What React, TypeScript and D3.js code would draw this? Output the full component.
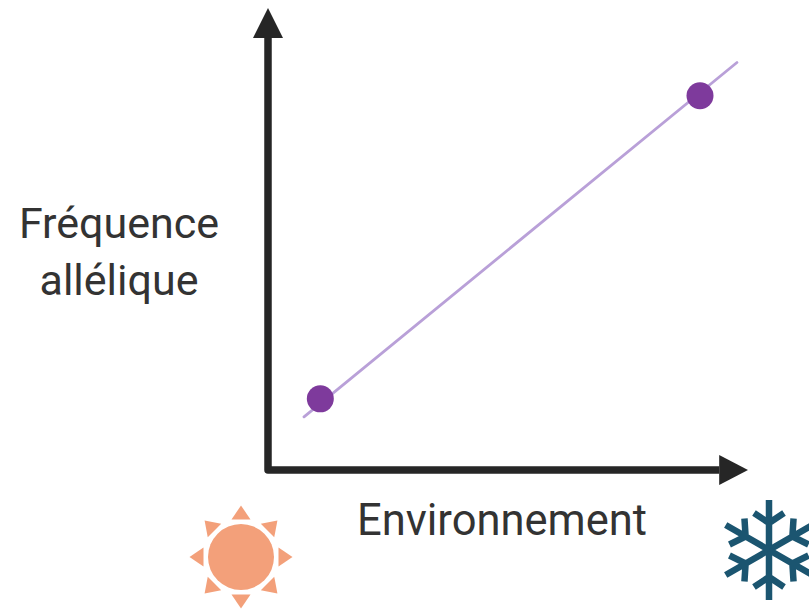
import { useEffect, useRef } from 'react';
import * as d3 from 'd3';

const WIDTH = 809;
const HEIGHT = 609;

// Values, in axis percent
const lineEnvironment = [7.5, 97.7];
const lineFrequency = [11.5, 88.2];
const pointEnvironment = [10.9, 90];
const pointFrequency = [15.4, 81];
const yLabelLines = ['Fréquence', 'allélique'];
const xLabel = 'Environnement';

const colorsMap = {
  axis: '#262626',
  text: '#333333',
  line: '#B9A0D8',
  point: '#7E3A9C',
  sun: '#F3A07A',
  snow: '#1B5570',
};

export default function App() {
  const svgRef = useRef<SVGSVGElement>(null);

  useEffect(() => {
    if (!svgRef.current) return;
    const svg = d3.select(svgRef.current);
    svg.selectAll('*').remove();

    const xScale = d3.scaleLinear().domain([0, 100]).range([268, 748]);
    const yScale = d3.scaleLinear().domain([0, 100]).range([470, 8]);

    // Axes with arrow heads
    const axes = d3.path();
    axes.moveTo(xScale(0), yScale(94));
    axes.lineTo(xScale(0), yScale(0));
    axes.lineTo(xScale(94), yScale(0));
    svg
      .append('path')
      .attr('d', axes.toString())
      .attr('fill', 'none')
      .attr('stroke', colorsMap.axis)
      .attr('stroke-width', 7.5)
      .attr('stroke-linejoin', 'round');

    const head = d3.line();
    svg
      .append('path')
      .attr('d', head([[xScale(0) - 15, yScale(93.5)], [xScale(0), yScale(100)], [xScale(0) + 15, yScale(93.5)]]) + 'Z')
      .attr('fill', colorsMap.axis);
    svg
      .append('path')
      .attr('d', head([[xScale(94), yScale(0) - 15], [xScale(100), yScale(0)], [xScale(94), yScale(0) + 15]]) + 'Z')
      .attr('fill', colorsMap.axis);

    // Trend line
    const line = d3
      .line<number>()
      .x(d => xScale(d))
      .y((_, i) => yScale(lineFrequency[i]));
    svg
      .append('path')
      .attr('d', line(lineEnvironment))
      .attr('fill', 'none')
      .attr('stroke', colorsMap.line)
      .attr('stroke-width', 2.8)
      .attr('stroke-linecap', 'round');

    // Points
    svg
      .selectAll('.point')
      .data(pointEnvironment)
      .join('circle')
      .attr('class', 'point')
      .attr('cx', d => xScale(d))
      .attr('cy', (_, i) => yScale(pointFrequency[i]))
      .attr('r', 13.5)
      .attr('fill', colorsMap.point);

    // Labels
    const labelFont = 'Roboto, sans-serif';
    svg
      .selectAll('.y-label')
      .data(yLabelLines)
      .join('text')
      .attr('class', 'y-label')
      .attr('x', 119)
      .attr('y', (_, i) => 238 + i * 57)
      .attr('text-anchor', 'middle')
      .attr('font-family', labelFont)
      .attr('font-size', 43)
      .attr('fill', colorsMap.text)
      .text(d => d);
    svg
      .append('text')
      .attr('x', 502)
      .attr('y', 535)
      .attr('text-anchor', 'middle')
      .attr('font-family', labelFont)
      .attr('font-size', 43.5)
      .attr('fill', colorsMap.text)
      .text(xLabel);

    // Sun icon
    const sun = svg.append('g').attr('transform', 'translate(241,557)');
    sun.append('circle').attr('r', 33).attr('fill', colorsMap.sun);
    sun
      .selectAll('path')
      .data(d3.range(8))
      .join('path')
      .attr('d', head([[-9.5, -37.5], [0, -51.5], [9.5, -37.5]]) + 'Z')
      .attr('transform', d => `rotate(${d * 45})`)
      .attr('fill', colorsMap.sun);

    // Snowflake icon
    const snow = svg.append('g').attr('transform', 'translate(769,550)');
    const arm = d3.path();
    arm.moveTo(0, 0);
    arm.lineTo(0, -50);
    arm.moveTo(-15, -37);
    arm.lineTo(0, -27);
    arm.lineTo(15, -37);
    snow
      .selectAll('path')
      .data(d3.range(6))
      .join('path')
      .attr('d', arm.toString())
      .attr('transform', d => `rotate(${d * 60})`)
      .attr('fill', 'none')
      .attr('stroke', colorsMap.snow)
      .attr('stroke-width', 6.5);
  }, []);

  return (
    <svg
      ref={svgRef}
      width={WIDTH}
      height={HEIGHT}
      style={{ position: 'absolute', left: 0, top: 0, background: '#fff' }}
    />
  );
}
